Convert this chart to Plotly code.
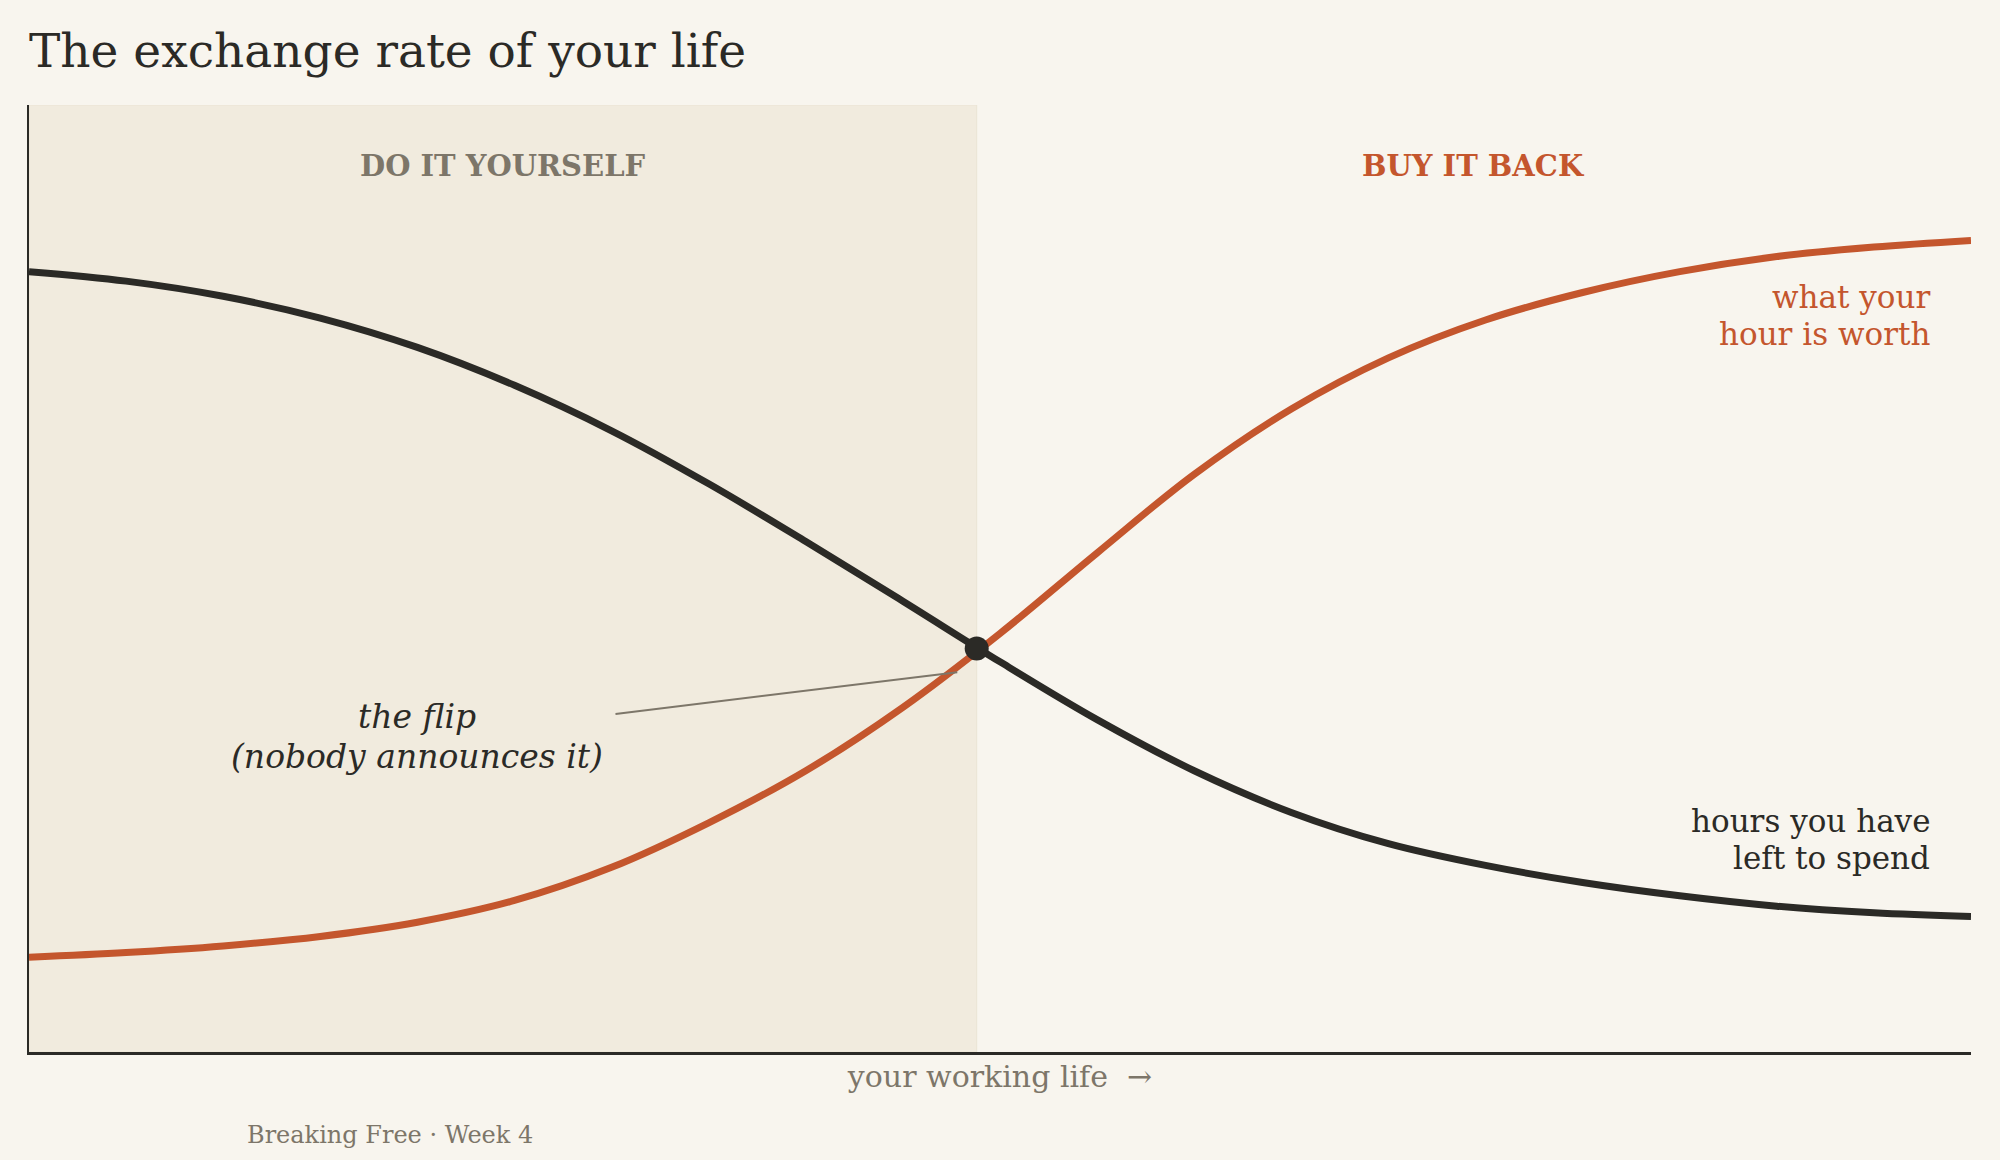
import plotly.graph_objects as go

# --- data ------------------------------------------------------------------
career = [0, 5, 10, 15, 20, 25, 30, 35, 40, 45, 50,
          55, 60, 65, 70, 75, 80, 85, 90, 95, 100]
hours_left = [82.4, 81.4, 79.8, 77.5, 74.4, 70.4, 65.6, 60.0, 53.9, 47.6, 41.2,
              35.1, 29.7, 25.3, 22.0, 19.7, 17.9, 16.5, 15.4, 14.7, 14.3]
hour_worth = [10.0, 10.5, 11.2, 12.2, 13.7, 16.0, 19.5, 24.2, 29.7, 36.4, 44.2,
              52.7, 61.0, 67.9, 73.3, 77.3, 80.2, 82.4, 84.0, 85.0, 85.7]
flip_x = 48.8
flip_y = 42.6

BG = "#f8f5ee"
SHADE = "#f1ebde"
INK = "#2b2a26"
RUST = "#c4562d"
MUTED = "#7d7669"
FONT = "DejaVu Serif"

PLOT_H = 1160 - 105 - 108  # plot area height in px, used to space text lines

fig = go.Figure()

# "do it yourself" zone
fig.add_shape(type="rect", xref="x", yref="y", x0=0, x1=flip_x, y0=0, y1=100,
              fillcolor=SHADE, line=dict(color="#ebe4d4", width=1), layer="below")

fig.add_trace(go.Scatter(x=career, y=hours_left, mode="lines",
                         line=dict(color=INK, width=7, shape="spline", smoothing=1),
                         hoverinfo="skip", showlegend=False))
fig.add_trace(go.Scatter(x=career, y=hour_worth, mode="lines",
                         line=dict(color=RUST, width=7, shape="spline", smoothing=1),
                         hoverinfo="skip", showlegend=False))
fig.add_trace(go.Scatter(x=[flip_x], y=[flip_y], mode="markers",
                         marker=dict(color=INK, size=24),
                         hoverinfo="skip", showlegend=False))

# pointer from the label to the flip
fig.add_shape(type="line", xref="x", yref="y", x0=30.2, y0=35.7, x1=47.8, y1=40.1,
              line=dict(color=MUTED, width=2))


def add_label(x, y, lines, color, size, anchor="center", italic=False, bold=False):
    # one annotation per line so the line spacing stays tight (~1.2em)
    step = 1.2 * size / PLOT_H * 100
    n = len(lines)
    for i, line in enumerate(lines):
        txt = line
        if bold:
            txt = f"<b>{txt}</b>"
        if italic:
            txt = f"<i>{txt}</i>"
        fig.add_annotation(x=x, y=y + ((n - 1) / 2 - i) * step, xref="x", yref="y",
                           text=txt, showarrow=False, xanchor=anchor, yanchor="middle",
                           font=dict(family=FONT, size=size, color=color))


add_label(flip_x / 2, 93.6, ["DO IT YOURSELF"], MUTED, 29, bold=True)
add_label((flip_x + 100) / 2, 93.6, ["BUY IT BACK"], RUST, 29, bold=True)
add_label(98, 77.8, ["what your", "hour is worth"], RUST, 31, anchor="right")
add_label(98, 22.4, ["hours you have", "left to spend"], INK, 31, anchor="right")
add_label(20.0, 33.3, ["the flip", "(nobody announces it)"], INK, 33, italic=True)

fig.add_annotation(x=0.186, y=-0.0876, xref="paper", yref="paper",
                   text="Breaking Free · Week 4", showarrow=False,
                   xanchor="center", yanchor="middle",
                   font=dict(family=FONT, size=24, color=MUTED))

fig.update_layout(
    width=2000, height=1160,
    paper_bgcolor=BG, plot_bgcolor=BG,
    margin=dict(l=29, r=29, t=105, b=108),
    title=dict(text="The exchange rate of your life", x=29 / 2000, xanchor="left",
               y=1 - 51 / 1160, yanchor="middle", xref="container",
               font=dict(family=FONT, size=47, color=INK)),
    xaxis=dict(range=[0, 100], showgrid=False, zeroline=False, showticklabels=False,
               ticks="", showline=True, linecolor=INK, linewidth=3,
               title=dict(text="your working life  →", standoff=12,
                          font=dict(family=FONT, size=30, color=MUTED))),
    yaxis=dict(range=[0, 100], showgrid=False, zeroline=False, showticklabels=False,
               ticks="", showline=True, linecolor=INK, linewidth=2),
)

# drop the default page margin so the figure sits flush in the window
fig.write_html("out.html", config={"displayModeBar": False},
               post_script="document.body.style.margin='0';document.body.style.background='#f8f5ee';")
